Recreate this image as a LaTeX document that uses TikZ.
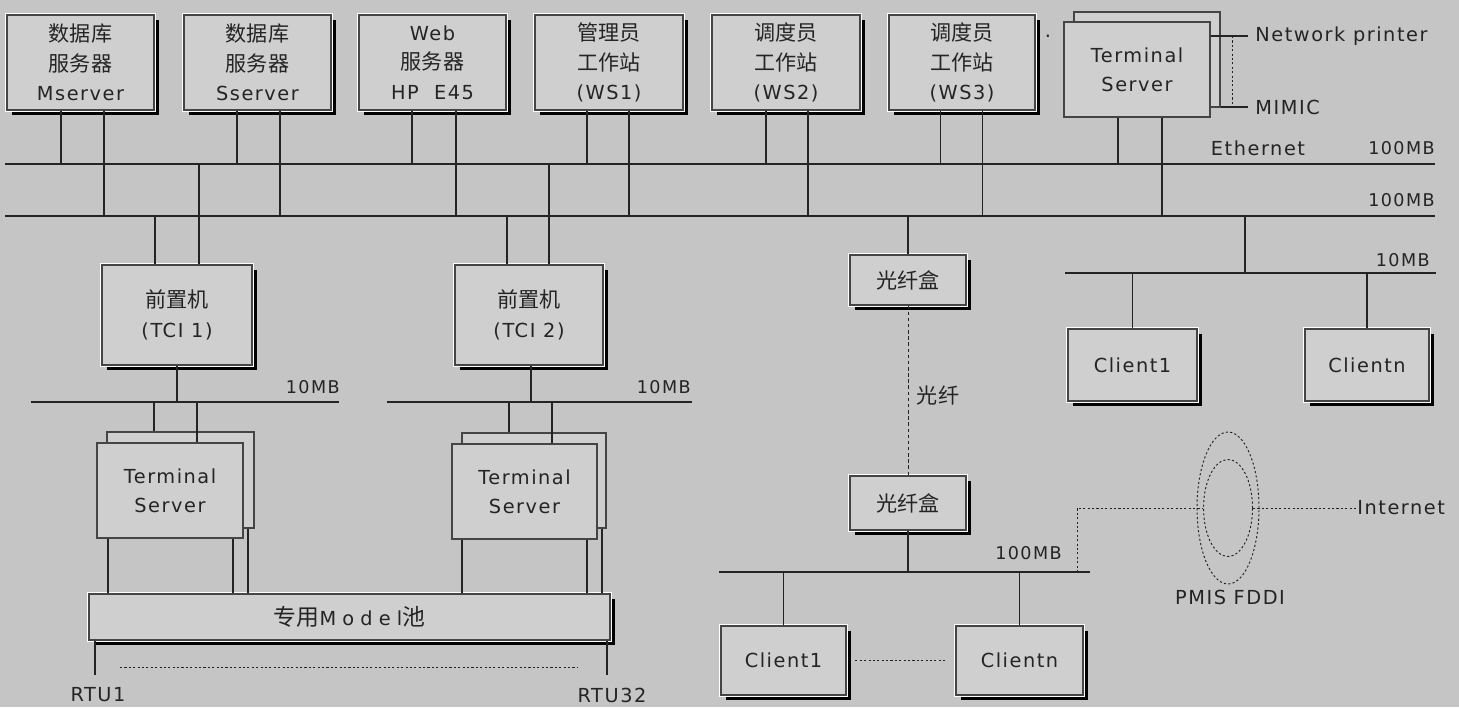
\documentclass[tikz,border=0pt]{standalone}
\usepackage{fontspec}
\setmainfont{DejaVu Sans}[LetterSpace=8]
\newfontfamily\cjk{Noto Sans CJK SC}
\usetikzlibrary{shapes.geometric,shadows,calc}
\definecolor{bg}{RGB}{197,197,197}
\definecolor{boxfill}{RGB}{207,207,207}
\definecolor{ink}{RGB}{36,36,36}
\newcommand\zh[1]{{\cjk\fontsize{12}{16.7}\selectfont #1}}
\newcommand\zhb[1]{{\cjk\fontsize{13}{16.7}\selectfont #1}}
\newcommand\dropto[3]{\draw[wire] ([xshift=#2*0.02cm]#1) -- ([xshift=#2*0.02cm]#1 |- #3);}
% \bx{style}{name}{x1}{y1}{x2}{y2}{text}
\newcommand\bx[7]{\node[#1, minimum width={(#5-#3)*0.02cm}, minimum height={(#6-#4)*0.02cm}] (#2) at ({(#3+#5)/2},{(#4+#6)/2}) {#7};}
\begin{document}
\begin{tikzpicture}[x=0.02cm,y=-0.02cm,
  every node/.style={font=\fontsize{11}{16.7}\selectfont, text=ink},
  dev/.style={draw=ink!85, line width=0.6pt, fill=boxfill, inner sep=0pt, align=center,
     drop shadow={shadow xshift=3pt, shadow yshift=-3pt, opacity=1, fill=black},
     preaction={draw=white, line width=2.8pt}},
  tsbox/.style={draw=ink!85, line width=0.65pt, fill=boxfill, inner sep=0pt, align=center},
  wire/.style={draw=ink, line width=0.7pt},
  bus/.style={draw=ink, line width=1.1pt},
  dots/.style={draw=ink, line width=0.55pt, dash pattern=on 1.2pt off 1.3pt},
  fiber/.style={draw=ink, line width=0.55pt, dash pattern=on 2pt off 1.5pt},
  lbl/.style={inner sep=0pt},
  mb/.style={inner sep=0pt, font=\fontsize{10}{12}\selectfont},
]
\fill[bg] (0,0) rectangle (1459,707);
\useasboundingbox (0,0) rectangle (1459,707);

% buses
\coordinate (e1w) at (5,164);   \coordinate (e1e) at (1435,164);
\coordinate (e2w) at (5,216);   \coordinate (e2e) at (1435,216);
\coordinate (l1w) at (31,402);  \coordinate (l1e) at (339,402);
\coordinate (l2w) at (387,402); \coordinate (l2e) at (692,402);
\coordinate (r10w) at (1065,273); \coordinate (r10e) at (1436,273);
\coordinate (f100w) at (719,572); \coordinate (f100e) at (1090,572);
\draw[bus] (e1w) -- (e1e);
\draw[bus] (e2w) -- (e2e);
\draw[bus] (l1w) -- (l1e);
\draw[bus] (l2w) -- (l2e);
\draw[bus] (r10w) -- (r10e);
\draw[bus] (f100w) -- (f100e);

% top devices
\bx{dev}{m1}{7}{15}{154}{110}{\zh{数据库}\\\zh{服务器}\\Mserver}
\bx{dev}{m2}{184}{15}{331}{110}{\zh{数据库}\\\zh{服务器}\\Sserver}
\bx{dev}{m3}{359}{15}{506}{110}{Web\\\zh{服务器}\\HP\ \ E45}
\bx{dev}{m4}{535}{15}{683}{110}{\zh{管理员}\\\zh{工作站}\\(WS1)}
\bx{dev}{m5}{712}{15}{860}{110}{\zh{调度员}\\\zh{工作站}\\(WS2)}
\bx{dev}{m6}{889}{15}{1035}{110}{\zh{调度员}\\\zh{工作站}\\(WS3)}
\bx{tsbox}{ts0b}{1074}{12}{1220}{107}{}
\bx{tsbox}{ts0}{1064}{22}{1210}{117}{Terminal\\Server}
\node[lbl] (speck) at (1048,36) {.};

\dropto{m1.south}{-19.5}{e1w}
\dropto{m1.south}{23.5}{e2w}
\dropto{m2.south}{-20.5}{e1w}
\dropto{m2.south}{22.5}{e2w}
\dropto{m3.south}{-20.5}{e1w}
\dropto{m3.south}{23.5}{e2w}
\dropto{m4.south}{-22}{e1w}
\dropto{m4.south}{20}{e2w}
\dropto{m5.south}{-20}{e1w}
\dropto{m5.south}{22}{e2w}
\dropto{m6.south}{-21.5}{e1w}
\dropto{m6.south}{20.5}{e2w}
\dropto{ts0.south}{-19}{e1w}
\dropto{ts0.south}{25}{e2w}

% printer / mimic
\node[lbl, anchor=west] (np) at (1255,36) {Network printer};
\node[lbl, anchor=west] (mimic) at (1255,107) {MIMIC};
\draw[wire] (ts0.east |- np.west) -- ([xshift=-4pt]np.west);
\draw[wire] (ts0b.east |- mimic.west) -- ([xshift=-4pt]mimic.west);
\coordinate (pv1) at (1232,36); \coordinate (pv2) at (1232,107);
\draw[dots] (pv1) -- (pv2);

\node[lbl] (eth) at (1258,148) {Ethernet};
\node[mb, anchor=east] (mbA) at (1435,148) {100MB};
\node[mb, anchor=east] (mbB) at (1435,200) {100MB};

% front-end computers
\bx{dev}{t1}{102}{265}{252}{365}{\zh{前置机}\\(TCI 1)}
\bx{dev}{t2}{455}{265}{603}{365}{\zh{前置机}\\(TCI 2)}
\dropto{t1.north}{-22}{e2w}
\dropto{t1.north}{22}{e1w}
\dropto{t2.north}{-22}{e2w}
\dropto{t2.north}{20}{e1w}
\dropto{t1.south}{0}{l1w}
\dropto{t2.south}{2}{l2w}
\node[mb, anchor=east] (mbC) at (340,387) {10MB};
\node[mb, anchor=east] (mbD) at (691,387) {10MB};

% terminal servers
\bx{tsbox}{ts1b}{107}{432}{254}{528}{}
\bx{tsbox}{ts1}{97}{443}{243}{538}{Terminal\\Server}
\bx{tsbox}{ts2b}{462}{433}{606}{528}{}
\bx{tsbox}{ts2}{452}{444}{597}{539}{Terminal\\Server}
\dropto{ts1b.north}{-26.5}{l1w}
\dropto{ts1.north}{27}{l1w}
\dropto{ts2b.north}{-25}{l2w}
\dropto{ts2.north}{27.5}{l2w}

% modem pool
\bx{dev}{model}{89}{594}{610}{640}{\zhb{专用}{\addfontfeatures{LetterSpace=32}Model}\zhb{池}}
\dropto{ts1.south}{-62}{model.north}
\dropto{ts1.south}{63}{model.north}
\dropto{ts1b.south}{67.5}{model.north}
\dropto{ts2.south}{-62.5}{model.north}
\dropto{ts2.south}{62.5}{model.north}
\dropto{ts2b.south}{68}{model.north}

\node[lbl] (rtu1) at (98,695) {RTU1};
\node[lbl] (rtu32) at (612,695) {RTU32};
\coordinate (rb) at (0,675);
\draw[wire] ([xshift=-254.5*0.02cm]model.south) -- ([xshift=-254.5*0.02cm]model.south |- rb);
\draw[wire] ([xshift=257.5*0.02cm]model.south) -- ([xshift=257.5*0.02cm]model.south |- rb);
\coordinate (d1) at (120,667); \coordinate (d2) at (578,667);
\draw[dots] (d1) -- (d2);

% fibre link
\bx{dev}{fb1}{850}{255}{966}{305}{\zh{光纤盒}}
\bx{dev}{fb2}{850}{476}{966}{530}{\zh{光纤盒}}
\draw[wire] (fb1.north) -- (fb1.north |- e2w);
\draw[fiber] (fb1.south) -- (fb2.north);
\node[lbl] (gx) at (938,395) {\zh{光纤}};
\draw[wire] (fb2.south) -- (fb2.south |- f100w);
\node[mb, anchor=east] (mbF) at (1062,553) {100MB};

% lower clients
\bx{dev}{lc1}{721}{626}{846}{695}{Client1}
\bx{dev}{lcn}{956}{626}{1083}{695}{Clientn}
\draw[wire] (lc1.north) -- (lc1.north |- f100w);
\draw[wire] (lcn.north) -- (lcn.north |- f100w);
\draw[dots, shorten <=5pt, shorten >=5pt] (lc1.east) -- (lcn.west);

% upper right clients
\coordinate (k) at (1245,216);
\draw[wire] (k) -- (k |- r10w);
\node[mb, anchor=east] (mbE) at (1430,260) {10MB};
\bx{dev}{c1}{1068}{329}{1197}{401}{Client1}
\bx{dev}{cn}{1305}{329}{1429}{401}{Clientn}
\draw[wire] (c1.north) -- (c1.north |- r10w);
\draw[wire] (cn.north) -- (cn.north |- r10w);

% FDDI
\node[ellipse, dots, minimum width=1.24cm, minimum height=3.04cm, inner sep=0pt] (fo) at (1228,508) {};
\node[ellipse, dots, minimum width=0.98cm, minimum height=1.94cm, inner sep=0pt] (fi) at (1228,508) {};
\node[lbl, anchor=west] (inet) at (1357,508) {Internet};
\node[lbl] (pmis) at (1230,597) {PMIS FDDI};
\coordinate (fx) at (1077,572);
\draw[dots] (fx) |- (fi.west);
\draw[dots] (fi.east) -- (fi.east -| inet.west);
\end{tikzpicture}
\end{document}
